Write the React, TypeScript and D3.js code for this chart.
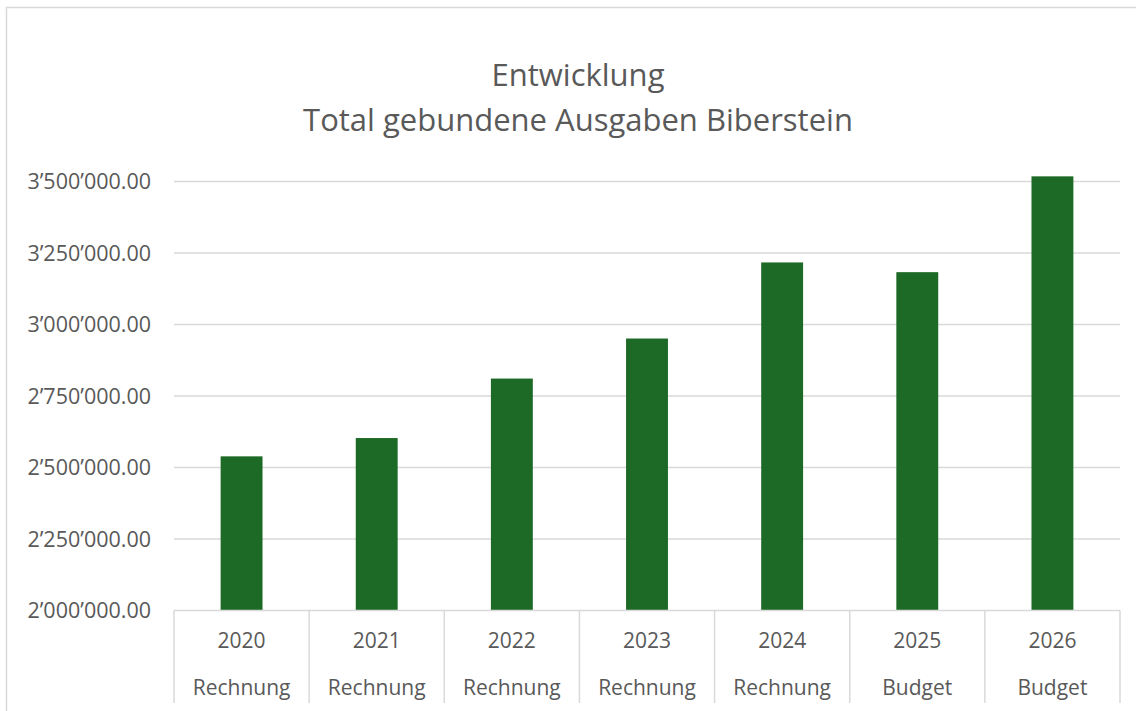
import React from "react";
import * as d3 from "d3";

const years = ["2020", "2021", "2022", "2023", "2024", "2025", "2026"];
const kinds = ["Rechnung", "Rechnung", "Rechnung", "Rechnung", "Rechnung", "Budget", "Budget"];
const values = [2539000, 2603000, 2811000, 2951000, 3217000, 3183000, 3518000];
const yTicks = [2000000, 2250000, 2500000, 2750000, 3000000, 3250000, 3500000];
const titleLines = ["Entwicklung", "Total gebundene Ausgaben Biberstein"];

const W = 1136;
const H = 711;
const FONT = "'Open Sans', 'Noto Sans', sans-serif";
const TEXT = "#595959";
const GRID = "#d9d9d9";
const BAR = "#1c6a25";

const locale = d3.formatLocale({ decimal: ".", thousands: "\u2019", grouping: [3], currency: ["", ""] });
const fmt = locale.format(",.2f");

export default function App() {
  const left = 174;
  const right = 1120;
  const top = 181.5;
  const bottom = 610.5;
  const x = d3.scaleBand<string>().domain(years).range([left, right]).paddingInner(0).paddingOuter(0);
  const y = d3.scaleLinear().domain([2000000, 3500000]).range([bottom, top]);
  const bw = x.bandwidth() * 0.31;

  return (
    <svg width={W} height={H} style={{ position: "absolute", left: 0, top: 0 }} fontFamily={FONT}>
      <rect x={0} y={0} width={W} height={H} fill="#fff" />
      <rect x={6.5} y={7.5} width={1160} height={720} fill="none" stroke={GRID} strokeWidth={1.5} />
      <text x={578} y={86} textAnchor="middle" fontSize={31} fill={TEXT}>{titleLines[0]}</text>
      <text x={578} y={131} textAnchor="middle" fontSize={31} fill={TEXT}>{titleLines[1]}</text>
      {yTicks.map((t) => (
        <g key={t}>
          {t > 2000000 && (
            <line x1={left} x2={right} y1={y(t)} y2={y(t)} stroke={GRID} strokeWidth={1.5} />
          )}
          <text x={151} y={y(t)} dy="0.35em" textAnchor="end" fontSize={21.5} fill={TEXT}>{fmt(t)}</text>
        </g>
      ))}
      {years.map((yr, i) => {
        const cx = (x(yr) as number) + x.bandwidth() / 2;
        return (
          <rect key={yr} x={cx - bw / 2} y={y(values[i])} width={bw} height={bottom - y(values[i])} fill={BAR} />
        );
      })}
      <line x1={left} x2={right} y1={bottom} y2={bottom} stroke={GRID} strokeWidth={1.5} />
      {[...years.map((yr) => x(yr) as number), right].map((bx, i) => (
        <line key={i} x1={bx} x2={bx} y1={bottom} y2={703} stroke={GRID} strokeWidth={1.5} />
      ))}
      {years.map((yr, i) => {
        const cx = (x(yr) as number) + x.bandwidth() / 2;
        return (
          <g key={yr}>
            <text x={cx} y={641} dy="0.35em" textAnchor="middle" fontSize={21} fill={TEXT}>{yr}</text>
            <text x={cx} y={688} dy="0.35em" textAnchor="middle" fontSize={21} fill={TEXT}>{kinds[i]}</text>
          </g>
        );
      })}
    </svg>
  );
}
